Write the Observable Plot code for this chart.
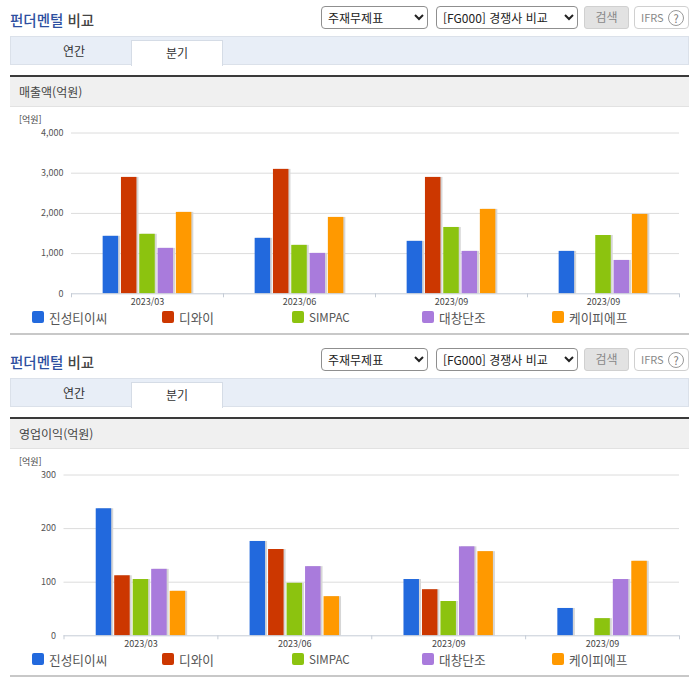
<!DOCTYPE html>
<html lang="ko"><head><meta charset="utf-8">
<script src="https://cdn.jsdelivr.net/npm/d3@7"></script>
<script src="https://cdn.jsdelivr.net/npm/@observablehq/plot@0.6"></script>
<style>
html,body{margin:0;padding:0;background:#fff}
body{width:696px;height:684px;position:relative;overflow:hidden;font-family:"Noto Sans CJK KR","Noto Sans",sans-serif;color:#444}
.a{position:absolute;box-sizing:border-box;white-space:nowrap}
.sec{position:absolute;left:0;width:696px;height:342px}
select{font:12px "Noto Sans CJK KR",sans-serif;background:#fff;color:#222;border:1px solid #8f8f8f;border-radius:4px;padding:0 0 0 2px;margin:0}
svg{display:block}
</style></head><body>
<script>
const periods = ["2023/03", "2023/06", "2023/09", "2023/09"];
const companies = ["진성티이씨", "디와이", "SIMPAC", "대창단조", "케이피에프"];
const colors = ["#2269dd", "#cc3700", "#8cc30f", "#a97bdc", "#ff9900"];

const salesJinsung = [1430, 1380, 1305, 1055];
const salesDY = [2895, 3095, 2895, null];
const salesSimpac = [1480, 1205, 1650, 1450];
const salesDaechang = [1130, 1005, 1055, 830];
const salesKPF = [2025, 1900, 2100, 1975];

const profitJinsung = [237, 176, 105, 51];
const profitDY = [112, 161, 86, null];
const profitSimpac = [105, 98, 64, 32];
const profitDaechang = [124, 129, 166, 105];
const profitKPF = [83, 73, 157, 139];

const salesTicks = [0, 1000, 2000, 3000, 4000];
const profitTicks = [0, 100, 200, 300];

function rows(list) {
  return list.flatMap((vals, s) => vals.map((v, g) => ({g, s, v})).filter(d => d.v != null));
}

function chart({series, ticks, left, barStep, barWidth}) {
  const data = rows(series);
  const x1 = d => d.g + 0.5 + (d.s - 2) * barStep - barWidth / 2;
  const x2 = d => d.g + 0.5 + (d.s - 2) * barStep + barWidth / 2;
  const y1 = () => 0;
  const y2 = d => d.v;
  return Plot.plot({
    width: 696, height: 200,
    marginLeft: left, marginRight: 17, marginTop: 22.5, marginBottom: 16.7,
    style: {fontFamily: '"Noto Sans CJK KR",sans-serif', fontSize: "9px", background: "transparent", overflow: "visible"},
    x: {type: "linear", domain: [0, 4]},
    y: {domain: [0, ticks[ticks.length - 1]]},
    marks: [
      Plot.ruleY(ticks.slice(1), {stroke: "#dcdcdc", strokeWidth: 1}),
      Plot.rect(data, {x1, x2, y1, y2, dx: 2, fill: "#d6d6d6"}),
      Plot.rect(data, {x1, x2, y1, y2, fill: d => colors[d.s]}),
      Plot.ruleY([0], {stroke: "#c5ccd6", strokeWidth: 1}),
      Plot.axisY({ticks, tickSize: 0, tickPadding: 8, tickFormat: d3.format(","), color: "#555", label: null}),
      Plot.axisX({ticks: [0, 1, 2, 3, 4], tickSize: 4, tickFormat: () => "", stroke: "#c5ccd6", label: null}),
      Plot.axisX({ticks: [0.5, 1.5, 2.5, 3.5], tickSize: 0, tickPadding: 5, tickFormat: d => periods[Math.floor(d)], color: "#444", label: null})
    ]
  });
}

function el(parent, css, text, cls) {
  const e = document.createElement("div");
  e.className = cls || "a";
  e.style.cssText = css;
  if (text != null) e.textContent = text;
  parent.appendChild(e);
  return e;
}

function section(top, metric, plotEl, plotTop) {
  const s = el(document.body, `top:${top}px`, null, "sec");
  const t = el(s, "left:10px;top:10px;font-size:14.5px;font-weight:500;line-height:20px;color:#444");
  t.innerHTML = '<span style="color:#2d4fa0">펀더멘털</span> 비교';
  const s1 = document.createElement("select");
  s1.className = "a"; s1.style.cssText = "left:321px;top:6px;width:107px;height:23px";
  s1.innerHTML = "<option>주재무제표</option>"; s.appendChild(s1);
  const s2 = document.createElement("select");
  s2.className = "a"; s2.style.cssText = "left:436px;top:6px;width:142px;height:23px";
  s2.innerHTML = "<option>[FG000] 경쟁사 비교</option>"; s.appendChild(s2);
  el(s, "left:584px;top:6px;width:45px;height:23px;background:#e2e2e2;border:1px solid #d0d0d0;border-radius:3px;font-size:12px;line-height:20px;text-align:center;color:#888", "검색");
  const f = el(s, "left:634px;top:6px;width:55px;height:23px;border:1px solid #d0d0d0;border-radius:4px;font-size:11px;line-height:20px;padding-left:6px;color:#888", "IFRS");
  el(f, "left:33px;top:3px;width:16px;height:16px;border:1px solid #999;border-radius:50%;font-size:11px;line-height:14px;text-align:center;color:#777", "?");
  el(s, "left:10px;top:36px;width:679px;height:29px;background:#e8eef7;border:1px solid #dbe1ea");
  el(s, "left:10px;top:36px;width:121px;height:29px;font-size:12px;line-height:29px;text-align:center;color:#333;padding-left:7px", "연간");
  el(s, "left:131px;top:40px;width:92px;height:26px;background:#fff;border:1px solid #d5dce6;border-bottom:0;font-size:12px;line-height:24px;text-align:center;color:#333", "분기");
  el(s, "left:10px;top:75px;width:679px;height:2px;background:#3a3a3a");
  el(s, "left:10px;top:77px;width:679px;height:30px;background:#f0f0f0;border-bottom:1px solid #e2e2e2;font-size:12px;line-height:29px;padding-left:9px;color:#444", metric);
  el(s, "left:19px;top:113px;font-size:9px;line-height:14px;color:#444", "[억원]");
  const host = el(s, `left:0;top:${plotTop}px;width:696px;height:200px`);
  host.appendChild(plotEl);
  companies.forEach((c, i) => {
    const x = 32 + i * 130;
    el(s, `left:${x}px;top:311px;width:12px;height:12px;border-radius:2px;background:${colors[i]}`);
    el(s, `left:${x + 17}px;top:311px;height:13px;font-size:${i === 2 ? 11.6 : 12.7}px;line-height:13px;color:#555`, c);
  });
  el(s, "left:10px;top:333px;width:679px;height:2px;background:#c8c8c8");
}

section(0, "매출액(억원)", chart({
  series: [salesJinsung, salesDY, salesSimpac, salesDaechang, salesKPF],
  ticks: salesTicks, left: 71, barStep: 18.3 / 152, barWidth: 15.5 / 152
}), 110);
section(342, "영업이익(억원)", chart({
  series: [profitJinsung, profitDY, profitSimpac, profitDaechang, profitKPF],
  ticks: profitTicks, left: 63.5, barStep: 18.5 / 154, barWidth: 15.5 / 154
}), 110);
</script>
</body></html>
